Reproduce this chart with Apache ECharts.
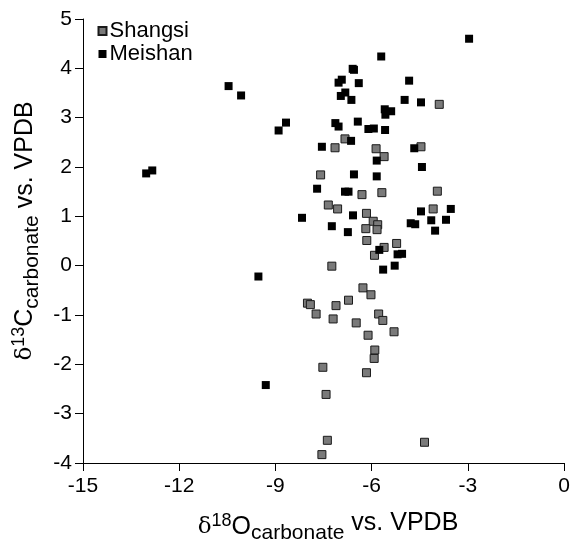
<!DOCTYPE html>
<html>
<head>
<meta charset="utf-8">
<script src="https://cdn.jsdelivr.net/npm/echarts@6/dist/echarts.min.js"></script>
<style>
html,body{margin:0;padding:0;background:#fff;}
#main{width:570px;height:539px;}
</style>
</head>
<body>
<div id="main"></div>
<script>
const seriesNames = ['Shangsi', 'Meishan'];
const xTicks = [-15, -12, -9, -6, -3, 0];
const yTicks = [-4, -3, -2, -1, 0, 1, 2, 3, 4, 5];

const shangsi = [
  [-3.89,3.27],[-6.83,2.57],[-7.14,2.39],[-5.86,2.37],[-4.46,2.41],[-5.61,2.21],
  [-7.59,1.84],[-6.30,1.44],[-5.68,1.48],[-3.95,1.51],[-7.35,1.23],[-7.06,1.15],
  [-6.16,1.06],[-5.95,0.90],[-5.81,0.83],[-6.18,0.75],[-5.83,0.73],[-4.08,1.15],
  [-6.15,0.51],[-5.61,0.37],[-5.22,0.45],[-5.91,0.21],[-7.24,-0.01],[-6.27,-0.45],
  [-6.02,-0.59],[-6.72,-0.70],[-8.00,-0.76],[-7.91,-0.79],[-7.11,-0.81],[-7.73,-0.98],
  [-5.78,-0.98],[-5.65,-1.11],[-7.20,-1.08],[-6.48,-1.16],[-5.30,-1.34],[-6.11,-1.41],
  [-5.90,-1.71],[-5.92,-1.88],[-7.52,-2.06],[-6.16,-2.17],[-7.42,-2.61],[-7.38,-3.54],
  [-4.35,-3.58],[-7.55,-3.83]
];

const meishan = [
  [-2.96,4.60],[-5.70,4.24],[-6.59,3.99],[-6.55,3.97],[-6.93,3.77],[-7.03,3.71],
  [-6.40,3.70],[-4.83,3.75],[-6.82,3.51],[-6.96,3.44],[-6.63,3.36],[-4.97,3.36],
  [-4.46,3.31],[-5.59,3.17],[-5.39,3.13],[-5.57,3.06],[-10.46,3.64],[-10.07,3.45],
  [-8.90,2.74],[-8.67,2.90],[-13.03,1.87],[-12.84,1.93],[-9.53,-0.22],[-9.30,-2.42],
  [-7.13,2.89],[-7.03,2.82],[-6.43,2.92],[-6.10,2.77],[-5.93,2.78],[-5.58,2.75],
  [-6.64,2.53],[-7.55,2.41],[-4.67,2.38],[-5.84,2.13],[-4.43,2.00],[-6.55,1.85],
  [-5.84,1.81],[-7.70,1.56],[-6.83,1.50],[-6.72,1.50],[-8.17,0.97],[-6.58,1.02],
  [-7.24,0.80],[-6.74,0.68],[-4.46,1.10],[-3.53,1.15],[-4.78,0.86],[-4.64,0.84],
  [-4.14,0.92],[-3.68,0.93],[-4.02,0.71],[-5.76,0.32],[-5.19,0.23],[-5.05,0.24],
  [-5.64,-0.08],[-5.28,0.00]
];

const FONT = '"Liberation Sans", Arial, Helvetica, sans-serif';
const SERIF = '"DejaVu Serif", "Liberation Serif", serif';
const FS = 21;
const TFS = 25;

const nameRich = {
  d: { fontFamily: SERIF, fontSize: TFS - 2, color: '#000', verticalAlign: 'middle' },
  sup: { fontFamily: FONT, fontSize: 18, color: '#000', verticalAlign: 'middle', padding: [0, 0, 12, 0] },
  b: { fontFamily: FONT, fontSize: TFS, color: '#000', verticalAlign: 'middle' },
  sub: { fontFamily: FONT, fontSize: 21, color: '#000', verticalAlign: 'middle', padding: [13, 0, 0, 0] },
  v: { fontFamily: FONT, fontSize: TFS, color: '#000', verticalAlign: 'middle', padding: [0, 0, 8, 0] }
};

const chart = echarts.init(document.getElementById('main'), null, { renderer: 'canvas' });

const axisCommon = {
  axisLine: { show: true, onZero: false, lineStyle: { color: '#000', width: 1 } },
  axisTick: { show: true, inside: false, length: 8, lineStyle: { color: '#000', width: 1 } },
  splitLine: { show: false },
  axisLabel: { color: '#000', fontFamily: FONT, fontSize: FS }
};

chart.setOption({
  backgroundColor: '#fff',
  animation: false,
  textStyle: { fontFamily: FONT },
  grid: { left: 83, right: 6, top: 19, bottom: 76, containLabel: false, outerBoundsMode: 'none' },
  legend: {
    data: seriesNames,
    orient: 'vertical',
    left: 92.5,
    top: 14.5,
    itemWidth: 8,
    itemHeight: 8,
    itemGap: 0,
    icon: 'rect',
    textStyle: { fontFamily: FONT, fontSize: 22, lineHeight: 23, color: '#000', padding: [0, 0, 0, -2] }
  },
  xAxis: Object.assign({}, axisCommon, {
    type: 'value',
    min: xTicks[0],
    max: xTicks[xTicks.length - 1],
    interval: 3,
    name: '{d|δ}{sup|18}{b|O}{sub|carbonate}{v| vs. VPDB}',
    nameLocation: 'middle',
    nameGap: 47,
    nameTextStyle: { rich: nameRich, padding: [0, 0, 0, 9] },
    axisLabel: Object.assign({}, axisCommon.axisLabel, { margin: 13 })
  }),
  yAxis: Object.assign({}, axisCommon, {
    type: 'value',
    min: yTicks[0],
    max: yTicks[yTicks.length - 1],
    interval: 1,
    name: '{d|δ}{sup|13}{b|C}{sub|carbonate}{b| vs. VPDB}',
    nameLocation: 'middle',
    nameRotate: 90,
    nameGap: 40,
    nameTextStyle: { rich: nameRich, padding: [0, 0, 0, 20] },
    axisLabel: Object.assign({}, axisCommon.axisLabel, { margin: 11 })
  }),
  series: [
    {
      name: seriesNames[0],
      type: 'scatter',
      symbol: 'rect',
      symbolSize: 8,
      data: shangsi,
      itemStyle: { color: '#7a7a7a', borderColor: '#1a1a1a', borderWidth: 1, opacity: 1 },
      z: 2
    },
    {
      name: seriesNames[1],
      type: 'scatter',
      symbol: 'rect',
      symbolSize: 8,
      data: meishan,
      itemStyle: { color: '#000', opacity: 1 },
      z: 3
    }
  ]
});
</script>
</body>
</html>
